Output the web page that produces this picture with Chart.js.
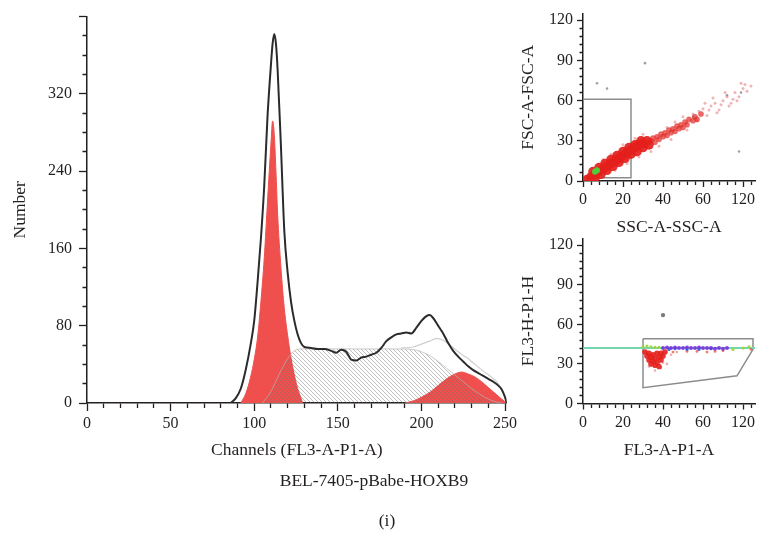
<!DOCTYPE html>
<html>
<head>
<meta charset="utf-8">
<script src="https://cdn.jsdelivr.net/npm/chart.js@4.4.0/dist/chart.umd.min.js"></script>
<style>
  body { margin: 0; background: #fff; width: 767px; height: 533px; position: relative; overflow: hidden;
         font-family: 'Liberation Serif', 'Times New Roman', serif; color: #231f20; }
  canvas { position: absolute; }
  .lbl { position: absolute; font-size: 17.5px; white-space: nowrap; transform: translate(-50%, -50%); }
</style>
</head>
<body>
<canvas id="hist" width="530" height="470" style="left:0;top:0"></canvas>
<canvas id="fsc" width="257" height="240" style="left:510px;top:0"></canvas>
<canvas id="fl3" width="257" height="240" style="left:510px;top:225px"></canvas>
<div class="lbl" style="left:374px;top:480px">BEL-7405-pBabe-HOXB9</div>
<div class="lbl" style="left:387px;top:520px">(i)</div>
<script>
const FONT = "'Liberation Serif', 'Times New Roman', serif";
const INK = '#231f20';
const RED = 'rgb(239,80,78)';

// histogram, FL3-A channels vs number of events
const channels = [86, 89, 92, 95, 98, 100, 102, 104, 106, 108, 110, 111, 112, 113, 114, 116, 118, 120, 122, 124, 126, 128, 130,
  134, 138, 142, 146, 149, 152, 155, 158, 161, 164, 167, 170, 173, 176, 179, 182, 185, 188, 191, 194, 197, 200, 203, 205, 207,
  210, 213, 216, 219, 222, 225, 228, 231, 234, 237, 240, 243, 246, 248, 250, 251];
const counts = [0, 5, 15, 35, 62, 85, 125, 170, 225, 298, 350, 372, 382, 372, 345, 265, 178, 135, 105, 85, 71, 62, 58,
  57, 56, 56, 54, 52, 55, 53, 45, 44, 47, 48, 50, 52, 57, 64, 68, 71, 72, 73, 72, 78, 85, 90, 91, 88,
  80, 72, 62, 54, 48, 43, 38, 34, 31, 28, 25, 22, 18, 14, 6, 0];

// G1 peak
const g1Channels = [92, 95, 98, 100, 102, 104, 106, 108, 110, 111, 112, 113, 114, 116, 118, 120, 122, 124, 126, 128, 129];
const g1Counts = [0, 10, 28, 45, 68, 105, 150, 210, 268, 292, 278, 240, 196, 140, 98, 70, 47, 29, 15, 5, 0];

// S phase (hatched)
const sChannels = [105, 110, 115, 120, 124, 128, 160, 190, 196, 200, 205, 210, 215, 220, 225, 230, 235, 240, 245, 248];
const sCounts = [0, 12, 30, 46, 54, 56, 56, 56, 55, 53, 49, 43, 36, 29, 22, 15, 9, 4, 1, 0];

// G2 peak
const g2Channels = [190, 195, 200, 205, 210, 215, 220, 224, 228, 232, 236, 240, 244, 248, 251];
const g2Counts = [0, 2, 6, 11, 18, 25, 30, 32, 30, 27, 22, 16, 10, 4, 0];

// fitted sum (thin grey line)
const fitChannels = [188, 195, 200, 205, 209, 213, 217, 222, 227, 232, 237, 241, 245, 248, 251];
const fitCounts = [57, 58, 61, 64, 67, 65, 60, 53, 47, 40, 33, 28, 22, 14, 4];

const histLabelsX = [0, 50, 100, 150, 200, 250];
const histLabelsY = [0, 80, 160, 240, 320];

// dot plots: x in axis steps, labels below are what is printed
const dotLabelsX = ['0', '20', '40', '60', '120'];
const dotLabelsY = [0, 30, 60, 90, 120];

// FSC-A vs SSC-A
const fscCore = [[2,1],[4,3],[6,5],[8,7],[10,9],[12,11],[14,13],[16,15],[18,17],[20,19],[22,21],[24,23],[26,25],[28,27],
  [30,28],[32,30],[5,7],[8,10],[11,13],[14,16],[17,19],[20,22],[23,25],[26,27],[29,30],[6,2],[9,5],[12,8],[15,11],[18,14],
  [21,17],[24,20],[27,22],[30,25],[33,27]];
const fscMid = [[34,30],[35,32],[36,29],[37,33],[38,31],[39,35],[40,33],[41,36],[42,34],[43,38],[44,36],[45,39],[46,37],
  [47,41],[48,39],[49,42],[50,40],[51,44],[52,42],[53,46],[55,45],[56,48],[57,46],[59,50]];
const fscSparse = [[60,54],[62,49],[64,56],[66,58],[68,53],[70,60],[72,63],[74,58],[76,66],[78,63],[80,69],[82,67],[84,71],
  [65,62],[71,66],[75,61],[79,73],[58,52],[61,58],[67,51],[73,56],[77,60],[81,72],[55,50],[57,45],[63,53],[69,57],
  [10,16],[14,20],[20,27],[26,32],[30,35],[16,8],[22,13],[28,18],[34,22],[38,26],[42,40],[44,31],[50,48],[52,38],[46,44]];
const fscGrey = [[7,73],[12,69],[31,88],[78,22],[72,64],[79,66],[55,48]];
const fscGreen = [[6,7],[7,8]];
const fscGate = [[0,2.5],[24,2.5],[24,61],[0,61],[0,2.5]];

// FL3-H vs FL3-A
const fl3Base = [[0,42],[86,42]];
const fl3Gate = [[30,49],[85,49],[85,41],[77,21],[30,12],[30,49]];
const fl3Red = [[31,39],[33,38],[35,37],[37,38],[39,38],[41,39],[32,36],[34,35],[36,34],[38,35],[40,36],[33,33],[35,32],
  [37,31],[39,33],[36,29],[38,28],[34,30]];
const fl3Pink = [[36,25],[39,27],[42,30],[44,37],[47,39],[33,28],[40,31]];
const fl3Purple = [[40,42],[42,42.5],[44,42],[46,42.5],[48,42],[50,42],[52,42.5],[54,42],[56,42],[58,42.5],[60,42],[62,42],
  [64,42],[66,41.5],[68,42],[70,41.5],[72,42]];
const fl3Blue = [[43,41],[46,41.5],[52,41],[58,41],[64,41.5]];
const fl3Orange = [[45,39],[52,39.5],[57,39.5],[62,39],[66,39.5],[70,40],[84,41]];
const fl3Yellow = [[30,43],[32,43.5],[34,43],[36,42.5],[38,42.5],[75,41],[80,42],[83,43]];
const fl3Grey = [[40,67]];

const pts = (xs, ys) => xs.map((x, i) => ({ x: x, y: ys[i] }));
const pairs = arr => arr.map(p => ({ x: p[0], y: p[1] }));

// hatch pattern for the S phase
const pc = document.createElement('canvas');
pc.width = 4; pc.height = 4;
const pctx = pc.getContext('2d');
pctx.strokeStyle = 'rgba(110,110,110,0.45)';
pctx.lineWidth = 1;
pctx.beginPath();
pctx.moveTo(-1, -1); pctx.lineTo(5, 5);
pctx.moveTo(3, -1); pctx.lineTo(5, 1);
pctx.moveTo(-1, 3); pctx.lineTo(1, 5);
pctx.stroke();
const hatch = document.createElement('canvas').getContext('2d').createPattern(pc, 'repeat');

// major ticks long, minor ticks short (dash trick)
function gridOpts(isMajor, tl, minor, left) {
  return {
    drawOnChartArea: false, drawTicks: true, tickLength: tl, tickColor: INK, tickWidth: 1.3,
    tickBorderDash: ctx => (!ctx.tick || isMajor(ctx.tick.value)) ? [] : (left ? [0, tl - minor, minor, 100] : [minor, 100])
  };
}
const font = { family: FONT, size: 16 };
const titleFont = { family: FONT, size: 17.5 };

new Chart(document.getElementById('hist'), {
  type: 'line',
  data: {
    datasets: [
      { data: pts(channels, counts), borderColor: '#2b2b2b', borderWidth: 2, pointRadius: 0, fill: false,
        cubicInterpolationMode: 'monotone', order: 0 },
      { data: pts(fitChannels, fitCounts), borderColor: '#cfcfcf', borderWidth: 1.2, pointRadius: 0, fill: false,
        cubicInterpolationMode: 'monotone', order: 1 },
      { data: pts(sChannels, sCounts), borderColor: 'rgba(180,180,180,0.7)', borderWidth: 1, backgroundColor: hatch,
        fill: 'origin', pointRadius: 0, cubicInterpolationMode: 'monotone', order: 2 },
      { data: pts(g1Channels, g1Counts), borderColor: RED, borderWidth: 1, backgroundColor: RED, fill: 'origin',
        pointRadius: 0, cubicInterpolationMode: 'monotone', order: 3 },
      { data: pts(g2Channels, g2Counts), borderColor: RED, borderWidth: 1, backgroundColor: RED, fill: 'origin',
        pointRadius: 0, cubicInterpolationMode: 'monotone', order: 3 }
    ]
  },
  options: {
    responsive: false, animation: false, events: [],
    layout: { padding: { top: 10, right: 23.3, left: 0, bottom: 0 } },
    plugins: { legend: { display: false }, tooltip: { enabled: false } },
    scales: {
      x: {
        type: 'linear', min: 0, max: 251,
        afterBuildTicks: s => { s.ticks = s.ticks.filter(t => t.value % 10 === 0); },
        afterFit: s => { s.height = 67; },
        border: { color: INK, width: 1.5 },
        grid: gridOpts(v => v % 50 === 0, 8, 4.5, false),
        ticks: { stepSize: 10, includeBounds: false, autoSkip: false, maxRotation: 0, padding: 3, color: INK, font: font,
          callback: v => histLabelsX.includes(v) ? String(v) : '' },
        title: { display: true, text: 'Channels (FL3-A-P1-A)', color: INK, font: titleFont, padding: { top: 0, bottom: 9 } }
      },
      y: {
        min: 0, max: 400,
        afterFit: s => { s.width = 87; },
        border: { color: INK, width: 1.5 },
        grid: gridOpts(v => v % 80 === 0, 8, 4.5, true),
        ticks: { stepSize: 20, autoSkip: false, padding: 7, color: INK, font: font,
          callback: v => histLabelsY.includes(v) ? String(v) : '' },
        title: { display: true, text: 'Number', color: INK, font: titleFont, padding: { top: 10, bottom: 0 } }
      }
    }
  }
});

function dotPlot(id, datasets, xTitle, yTitle, lay) {
  new Chart(document.getElementById(id), {
    type: 'scatter',
    data: { datasets: datasets },
    options: {
      responsive: false, animation: false, events: [],
      layout: { padding: { top: lay.top, right: 12, left: 0, bottom: 0 } },
      plugins: { legend: { display: false }, tooltip: { enabled: false } },
      scales: {
        x: {
          type: 'linear', min: 0, max: 86,
          afterBuildTicks: s => { s.ticks = s.ticks.filter(t => t.value % 4 === 0); },
          afterFit: s => { s.height = lay.xh; },
          border: { color: INK, width: 1.5 },
          grid: gridOpts(v => v % 20 === 0, 6, 3.5, false),
          ticks: { stepSize: 4, includeBounds: false, autoSkip: false, maxRotation: 0, padding: lay.xpad, color: INK,
            font: font, callback: v => v % 20 === 0 ? dotLabelsX[v / 20] : '' },
          title: { display: true, text: xTitle, color: INK, font: titleFont, padding: { top: 0, bottom: lay.tb } }
        },
        y: {
          min: 0, max: 125,
          afterBuildTicks: s => { s.ticks = s.ticks.filter(t => t.value % 6 === 0); },
          afterFit: s => { s.width = 73; },
          border: { color: INK, width: 1.5 },
          grid: gridOpts(v => v % 30 === 0, 6, 3.5, true),
          ticks: { stepSize: 6, includeBounds: false, autoSkip: false, padding: 4, color: INK, font: font,
            callback: v => dotLabelsY.includes(v) ? String(v) : '' },
          title: { display: true, text: yTitle, color: INK, font: titleFont, padding: { top: 8, bottom: 0 } }
        }
      }
    }
  });
}

const dots = (arr, color, r, order) => ({ data: pairs(arr), backgroundColor: color, borderWidth: 0, pointRadius: r, order: order });
const gate = (arr, color, w, order) => ({ data: pairs(arr), showLine: true, borderColor: color, borderWidth: w, pointRadius: 0,
  fill: false, order: order });

dotPlot('fsc', [
  dots(fscGreen, 'rgb(80,205,60)', 3, 0),
  dots(fscCore, 'rgba(228,32,28,0.92)', 4.8, 1),
  dots(fscMid, 'rgba(225,40,35,0.7)', 2.8, 2),
  dots(fscSparse, 'rgba(220,70,70,0.4)', 1.5, 3),
  dots(fscGrey, 'rgba(110,95,100,0.6)', 1.3, 3),
  gate(fscGate, '#8c8c8c', 1.5, 4)
], 'SSC-A-SSC-A', 'FSC-A-FSC-A', { top: 13.3, xh: 59, xpad: 3.4, tb: 2 });

dotPlot('fl3', [
  dots(fl3Grey, 'rgba(90,90,90,0.8)', 2.2, 0),
  dots(fl3Red, 'rgba(228,32,28,0.9)', 2.8, 1),
  dots(fl3Pink, 'rgba(220,90,90,0.5)', 1.3, 1),
  dots(fl3Purple, 'rgba(120,50,220,0.9)', 2, 2),
  dots(fl3Blue, 'rgba(50,90,230,0.9)', 1.6, 2),
  dots(fl3Orange, 'rgba(240,90,60,0.8)', 1.4, 2),
  dots(fl3Yellow, 'rgba(160,210,60,0.9)', 1.6, 2),
  gate(fl3Base, 'rgb(115,215,175)', 2, 3),
  gate(fl3Gate, '#8c8c8c', 1.5, 4)
], 'FL3-A-P1-A', 'FL3-H-P1-H', { top: 8.2, xh: 61.5, xpad: 3.9, tb: 4 });
</script>
</body>
</html>
